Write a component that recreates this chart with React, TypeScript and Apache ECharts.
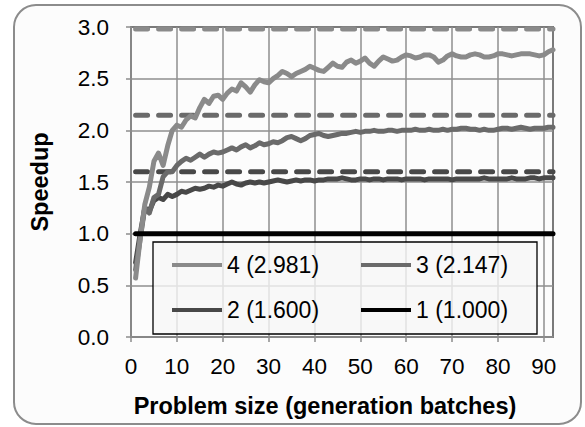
import React, { useEffect, useRef } from "react";
import * as echarts from "echarts";

const batches: number[] = [
  1, 2, 3, 4, 5, 6, 7, 8, 9, 10, 11, 12, 13, 14, 15, 16, 17, 18, 19, 20,
  21, 22, 23, 24, 25, 26, 27, 28, 29, 30, 31, 32, 33, 34, 35, 36, 37, 38, 39, 40,
  41, 42, 43, 44, 45, 46, 47, 48, 49, 50, 51, 52, 53, 54, 55, 56, 57, 58, 59, 60,
  61, 62, 63, 64, 65, 66, 67, 68, 69, 70, 71, 72, 73, 74, 75, 76, 77, 78, 79, 80,
  81, 82, 83, 84, 85, 86, 87, 88, 89, 90, 91, 92,
];

const speedup4: number[] = [
  0.57, 0.95, 1.28, 1.45, 1.70, 1.78, 1.66, 1.85, 2.00, 2.05,
  2.03, 2.10, 2.14, 2.12, 2.22, 2.30, 2.26, 2.33, 2.34, 2.30,
  2.36, 2.40, 2.38, 2.46, 2.42, 2.37, 2.44, 2.49, 2.47, 2.46,
  2.50, 2.53, 2.57, 2.55, 2.52, 2.55, 2.57, 2.59, 2.62, 2.60,
  2.58, 2.57, 2.61, 2.65, 2.62, 2.61, 2.66, 2.68, 2.65, 2.67,
  2.70, 2.65, 2.62, 2.67, 2.71, 2.69, 2.67, 2.68, 2.71, 2.73,
  2.72, 2.70, 2.71, 2.73, 2.73, 2.71, 2.66, 2.68, 2.72, 2.74,
  2.72, 2.71, 2.71, 2.73, 2.74, 2.73, 2.71, 2.71, 2.72, 2.74,
  2.74, 2.73, 2.72, 2.73, 2.74, 2.74, 2.74, 2.73, 2.72, 2.73,
  2.76, 2.78,
];

const speedup3: number[] = [
  0.65, 0.95, 1.25, 1.20, 1.35, 1.38, 1.55, 1.60, 1.60, 1.66,
  1.70, 1.73, 1.71, 1.74, 1.77, 1.74, 1.77, 1.79, 1.78, 1.79,
  1.81, 1.83, 1.81, 1.84, 1.86, 1.83, 1.85, 1.88, 1.86, 1.87,
  1.89, 1.88, 1.90, 1.93, 1.94, 1.92, 1.90, 1.92, 1.95, 1.96,
  1.97, 1.95, 1.94, 1.95, 1.96, 1.97, 1.97, 1.98, 1.99, 1.98,
  1.99, 1.99, 2.00, 1.99, 1.99, 2.00, 2.00, 1.99, 2.00, 2.00,
  2.00, 2.01, 2.00, 2.00, 2.01, 2.00, 2.00, 2.01, 2.00, 2.01,
  2.01, 2.02, 2.02, 2.01, 2.01, 2.00, 2.01, 2.00, 2.00, 2.01,
  2.02, 2.02, 2.01, 2.02, 2.03, 2.02, 2.01, 2.02, 2.02, 2.02,
  2.03, 2.03,
];

const speedup2: number[] = [
  0.72, 1.00, 1.25, 1.22, 1.32, 1.35, 1.33, 1.38, 1.36, 1.38,
  1.41, 1.40, 1.42, 1.44, 1.43, 1.44, 1.46, 1.45, 1.47, 1.46,
  1.48, 1.50, 1.48, 1.47, 1.49, 1.50, 1.49, 1.50, 1.49, 1.50,
  1.51, 1.52, 1.51, 1.50, 1.51, 1.52, 1.51, 1.52, 1.52, 1.51,
  1.52, 1.52, 1.53, 1.53, 1.53, 1.54, 1.53, 1.52, 1.52, 1.53,
  1.53, 1.52, 1.53, 1.53, 1.52, 1.53, 1.53, 1.53, 1.52, 1.53,
  1.53, 1.53, 1.53, 1.52, 1.53, 1.53, 1.53, 1.53, 1.53, 1.52,
  1.53, 1.53, 1.53, 1.53, 1.53, 1.53, 1.54, 1.53, 1.53, 1.53,
  1.53, 1.53, 1.54, 1.53, 1.53, 1.53, 1.54, 1.54, 1.53, 1.54,
  1.54, 1.54,
];

// Series "1": a flat baseline from the first to the last batch
const baselineX: number[] = [1, 92];
const speedup1: number[] = [1.0, 1.0];

// Ideal / maximum speedups (dashed reference lines)
const threadCounts: number[] = [4, 3, 2, 1];
const maxSpeedups: number[] = [2.981, 2.147, 1.6, 1.0];

const yTicks: number[] = [0, 0.5, 1, 1.5, 2, 2.5, 3];
const xTicks: number[] = [0, 10, 20, 30, 40, 50, 60, 70, 80, 90];

const colors = ["#8a8a8a", "#6a6a6a", "#484848", "#000000"];
const FONT = "'Liberation Sans', Arial, sans-serif";

export default function App() {
  const ref = useRef<HTMLDivElement>(null);

  useEffect(() => {
    document.body.style.margin = "0";
    if (!ref.current) return;
    const chart = echarts.init(ref.current, undefined, { renderer: "svg" });

    const names = threadCounts.map(
      (n, i) => `${n} (${maxSpeedups[i].toFixed(3)})`
    );
    const values = [speedup4, speedup3, speedup2];

    const dataSeries: any[] = values.map((arr, i) => ({
      name: names[i],
      type: "line",
      data: arr.map((v, j) => [batches[j], v]),
      symbol: "none",
      showSymbol: false,
      lineStyle: { color: colors[i], width: 5, join: "round", cap: "round" },
      itemStyle: { color: colors[i] },
      z: 5 - i,
    }));

    dataSeries.push({
      name: names[3],
      type: "line",
      data: speedup1.map((v, j) => [baselineX[j], v]),
      symbol: "none",
      showSymbol: false,
      lineStyle: { color: colors[3], width: 5, cap: "round" },
      itemStyle: { color: colors[3] },
      z: 6,
    });

    const dashedSeries: any[] = [0, 1, 2].map((i) => ({
      name: "ideal-" + threadCounts[i],
      type: "line",
      data: baselineX.map((x) => [x, maxSpeedups[i]]),
      symbol: "none",
      showSymbol: false,
      lineStyle: {
        color: colors[i],
        width: 5,
        type: [12, 11],
        cap: "round",
      },
      itemStyle: { color: colors[i] },
      z: 4,
    }));

    chart.setOption({
      animation: false,
      backgroundColor: "#ffffff",
      graphic: {
        elements: [
          {
            type: "rect",
            shape: { x: 14, y: 5, width: 567, height: 419, r: 22 },
            style: { fill: "#fcfcfc", stroke: "#8c8c8c", lineWidth: 2 },
            z: -10,
          },
          {
            type: "rect",
            shape: { x: 153, y: 242, width: 384, height: 92 },
            style: {
              fill: "rgba(246,246,246,0.8)",
              stroke: "#000000",
              lineWidth: 1.3,
            },
            z: 3,
          },
        ],
      },
      grid: {
        left: 131,
        right: 32,
        top: 27,
        bottom: 90,
        show: true,
        borderColor: "#000000",
        borderWidth: 1.5,
        backgroundColor: "transparent",
      },
      legend: {
        data: names,
        left: 172,
        top: 253,
        width: 380,
        padding: 0,
        itemGap: 21,
        itemWidth: 50,
        itemHeight: 4,
        icon: "rect",
        textStyle: {
          fontSize: 23,
          fontFamily: FONT,
          color: "#000",
          width: 113,
          lineHeight: 24,
        },
        z: 10,
      },
      xAxis: {
        type: "value",
        min: xTicks[0],
        max: 92,
        interval: xTicks[1] - xTicks[0],
        name: "Problem size (generation batches)",
        nameLocation: "middle",
        nameGap: 57,
        nameTextStyle: {
          fontSize: 23.5,
          fontWeight: "bold",
          fontFamily: FONT,
          color: "#000",
          padding: [0, 34, 0, 0],
        },
        axisLine: { show: true, lineStyle: { color: "#8c8c8c", width: 1.5 } },
        axisTick: { show: true, length: 5, lineStyle: { color: "#8c8c8c", width: 1.5 } },
        axisLabel: {
          fontSize: 22.5,
          fontFamily: FONT,
          color: "#000",
          margin: 18,
          showMaxLabel: false,
          formatter: (v: number) => (xTicks.includes(v) ? String(v) : ""),
        },
        splitLine: { show: true, lineStyle: { color: "#8f8f8f", width: 1.5 } },
      },
      yAxis: {
        type: "value",
        min: yTicks[0],
        max: yTicks[yTicks.length - 1],
        interval: yTicks[1] - yTicks[0],
        name: "Speedup",
        nameLocation: "middle",
        nameGap: 79,
        nameTextStyle: {
          fontSize: 23.5,
          fontWeight: "bold",
          fontFamily: FONT,
          color: "#000",
        },
        axisLine: { show: true, lineStyle: { color: "#8c8c8c", width: 1.5 } },
        axisTick: { show: true, length: 5, lineStyle: { color: "#8c8c8c", width: 1.5 } },
        axisLabel: {
          fontSize: 22.5,
          fontFamily: FONT,
          color: "#000",
          margin: 22,
          formatter: (v: number) => v.toFixed(1),
        },
        splitLine: { show: true, lineStyle: { color: "#8f8f8f", width: 1.5 } },
      },
      series: [...dashedSeries, ...dataSeries],
    });

    return () => {
      chart.dispose();
    };
  }, []);

  return <div ref={ref} style={{ width: 585, height: 427 }} />;
}
